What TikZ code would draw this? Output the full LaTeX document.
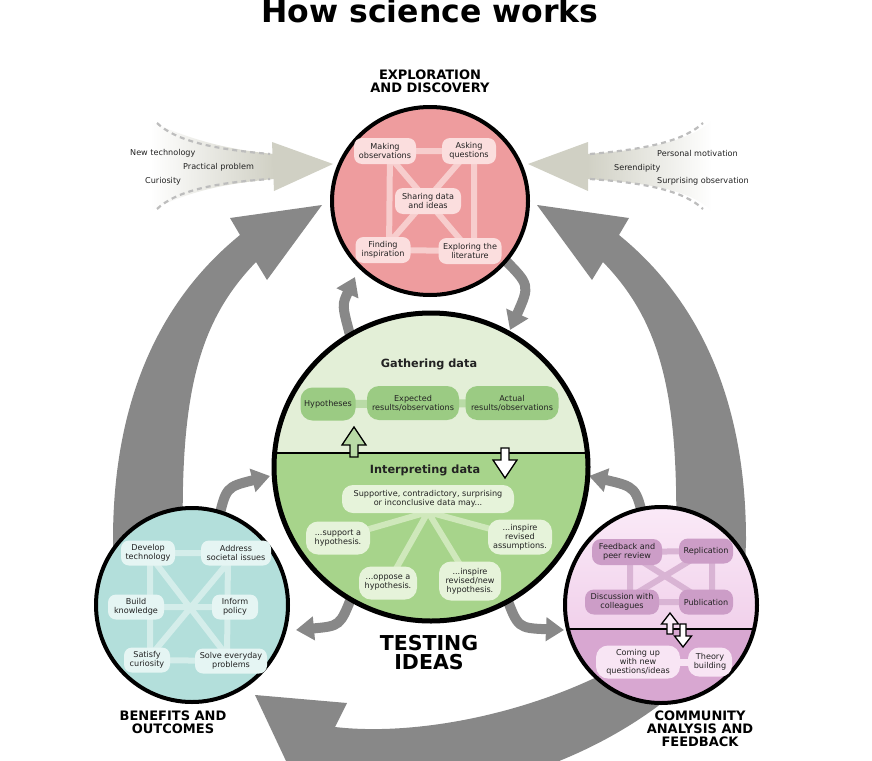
\documentclass[tikz,border=0pt]{standalone}
\usepackage{fontspec}
\setmainfont{DejaVu Sans}
\usetikzlibrary{arrows.meta,calc,shapes.geometric}
\definecolor{pkfill}{HTML}{EE9C9E}
\definecolor{pknode}{HTML}{FBDEDE}
\definecolor{pkline}{HTML}{F7CDCD}
\definecolor{gnup}{HTML}{E3EFD7}
\definecolor{gnlow}{HTML}{A7D48B}
\definecolor{gnnodeup}{HTML}{9BCB83}
\definecolor{gnlineup}{HTML}{B9DBA6}
\definecolor{gnnodelow}{HTML}{E6F3DA}
\definecolor{gnlinelow}{HTML}{CFE8BB}
\definecolor{tlfill}{HTML}{B3DFDB}
\definecolor{tlnode}{HTML}{E5F5F3}
\definecolor{tlline}{HTML}{D4EDEA}
\definecolor{putop}{HTML}{FBEBF8}
\definecolor{pubot}{HTML}{F1D1EB}
\definecolor{pulow}{HTML}{D8A7D1}
\definecolor{punodeup}{HTML}{CC9DC7}
\definecolor{pulineup}{HTML}{D9B4D4}
\definecolor{punodelow}{HTML}{F8E5F4}
\definecolor{garrow}{HTML}{888888}
\definecolor{inarrow}{HTML}{D0D0C4}
\definecolor{dashc}{HTML}{BDBDBD}
\definecolor{txt}{HTML}{222222}
\newcommand{\hollowarr}[8]{%
  \filldraw[fill=#8,draw=black,line width=1.3pt,line join=miter]
  ({#1-#7},{#2}) -- ({#1-#7},{#2+(#3)*(#4-#5)}) -- ({#1-#6},{#2+(#3)*(#4-#5)}) -- ({#1},{#2+(#3)*#4})
  -- ({#1+#6},{#2+(#3)*(#4-#5)}) -- ({#1+#7},{#2+(#3)*(#4-#5)}) -- ({#1+#7},{#2}) -- cycle;}
\begin{document}
\begin{tikzpicture}[x=1pt,y=-1pt,
  pill/.style={rectangle, rounded corners=8pt, align=center, inner sep=0pt,
    font=\fontsize{8.1}{9.1}\selectfont, text=txt},
  inl/.style={font=\fontsize{8.1}{9}\selectfont, text=txt, anchor=west, inner sep=0pt},
  captxt/.style={font=\fontsize{13}{13}\selectfont\bfseries, align=center, inner sep=0pt},
  subtxt/.style={font=\fontsize{11.3}{12}\selectfont\bfseries, text=txt, inner sep=0pt},
  sarrow/.style={draw=garrow, line width=10pt, -{Triangle[length=18pt,width=23pt]}},
  dashin/.style={draw=dashc, line width=2.2pt, dash pattern=on 5pt off 4pt},
  conn/.style={line width=6pt}]
\fill[white] (0,0) rectangle (872,760);
\useasboundingbox (0,0) rectangle (872,760);

% title
\node[font=\fontsize{31.5}{31.5}\selectfont\bfseries, anchor=base, inner sep=0pt] (title) at (430,22.5) {How science works};

% big grey arrows (tapered bodies)
\fill[garrow] (322,205) -- (230,218) -- (240,235) .. controls (160,300) and (113,400) .. (113,540)
  -- (115,600) -- (183,600) -- (183,540) .. controls (180,390) and (200,320) .. (256,262) -- (267,280) -- cycle;
\fill[garrow] (537,205) -- (629,218) -- (619,235) .. controls (699,300) and (746,400) .. (746,540)
  -- (744,600) -- (676,600) -- (676,540) .. controls (679,390) and (659,320) .. (603,262) -- (592,280) -- cycle;
\fill[garrow] (255,695) -- (347,703) -- (335,727) .. controls (430,738) and (570,705) .. (660,640)
  -- (700,670) .. controls (660,710) and (600,750) .. (520,775) -- (302,795) -- cycle;

% input arrows left
\shade[left color=white, right color=inarrow] (150,121) .. controls (190,140) and (230,150) .. (274,154)
  -- (274,179) .. controls (230,183) and (190,190) .. (150,211) -- cycle;
\fill[inarrow] (272,142) -- (333,164) -- (274,191) -- cycle;
\draw[dashin] (157,123) .. controls (175,140) and (210,149) .. (270,154);
\draw[dashin] (157,209) .. controls (175,192) and (210,183) .. (270,179);
% input arrows right
\shade[left color=inarrow, right color=white] (586,154) .. controls (650,150) and (690,140) .. (712,121)
  -- (712,211) .. controls (690,190) and (650,183) .. (586,179) -- cycle;
\fill[inarrow] (588,142) -- (528,164) -- (588,191) -- cycle;
\draw[dashin] (590,154) .. controls (650,149) and (685,140) .. (703,123);
\draw[dashin] (590,179) .. controls (650,183) and (685,192) .. (703,209);

\node[inl] (l1) at (130,153) {New technology};
\node[inl] (l2) at (183,167) {Practical problem};
\node[inl] (l3) at (145,181) {Curiosity};
\node[inl] (r1) at (657,153) {Personal motivation};
\node[inl] (r2) at (614,168) {Serendipity};
\node[inl] (r3) at (657,181) {Surprising observation};

% small grey arrows
\coordinate (a1s) at (350,335); \coordinate (a1e) at (355,277);
\coordinate (a2s) at (503,258); \coordinate (a2e) at (510,330);
\coordinate (a3s) at (218,522); \coordinate (a3e) at (270,476);
\coordinate (a4s) at (352,596); \coordinate (a4e) at (296,630);
\coordinate (a5s) at (506,596); \coordinate (a5e) at (564,630);
\coordinate (a6s) at (644,522); \coordinate (a6e) at (589,476);
\draw[sarrow] (a1s) .. controls (342,305) .. (a1e);
\draw[sarrow] (a2s) .. controls (530,285) .. (a2e);
\draw[sarrow] (a3s) .. controls (226,487) .. (a3e);
\draw[sarrow] (a4s) .. controls (340,626) .. (a4e);
\draw[sarrow] (a5s) .. controls (518,628) .. (a5e);
\draw[sarrow] (a6s) .. controls (636,487) .. (a6e);

% ===== top circle =====
\node[ellipse, draw, line width=4pt, fill=pkfill, minimum width=196pt, minimum height=188pt] (topc) at (430,201) {};
\coordinate (mkp) at (385,151); \coordinate (asp) at (469,151);
\coordinate (shp) at (428,201); \coordinate (fip) at (383,250); \coordinate (elp) at (470,251);
\draw[conn, pkline] (mkp) -- (asp) (fip) -- (elp) (mkp) -- (elp) (asp) -- (fip)
  ([xshift=5pt]mkp) -- ([xshift=6pt]fip) ([xshift=5pt]asp) -- ([xshift=4pt]elp);
\node[pill, fill=pknode, minimum width=62pt, minimum height=26pt] (mk) at (mkp) {Making\\observations};
\node[pill, fill=pknode, minimum width=54pt, minimum height=26pt] (as) at (asp) {Asking\\questions};
\node[pill, fill=pknode, minimum width=66pt, minimum height=26pt] (sh) at (shp) {Sharing data\\and ideas};
\node[pill, fill=pknode, minimum width=55pt, minimum height=26pt] (fi) at (fip) {Finding\\inspiration};
\node[pill, fill=pknode, minimum width=63pt, minimum height=26pt] (el) at (elp) {Exploring the\\literature};
\node[captxt] (capt) at (430,81.5) {EXPLORATION\\AND DISCOVERY};

% ===== centre circle =====
\begin{scope}
\clip (431,467) ellipse [x radius=157pt, y radius=154pt];
\fill[gnlow] (270,300) rectangle (600,630);
\fill[gnup] (270,300) rectangle (600,453);
\draw[line width=2pt] (270,453) -- (600,453);
\end{scope}
\node[ellipse, draw, line width=5pt, minimum width=314pt, minimum height=308pt] (gc) at (431,467) {};
\node[subtxt] (gd) at (429,364) {Gathering data};
\draw[line width=8pt, gnlineup] (328,404) -- (512,403);
\node[pill, fill=gnnodeup, rounded corners=12pt, minimum width=55pt, minimum height=33pt] (hy) at (328,404) {Hypotheses};
\node[pill, fill=gnnodeup, rounded corners=12pt, minimum width=92pt, minimum height=34pt] (exr) at (413,403) {Expected\\results/observations};
\node[pill, fill=gnnodeup, rounded corners=12pt, minimum width=93pt, minimum height=34pt] (acr) at (512,403) {Actual\\results/observations};
\hollowarr{354}{457}{-1}{30}{18}{12}{4}{gnlineup}
\hollowarr{505}{448}{1}{30}{18}{12}{4}{white}
\node[subtxt] (id) at (425,470) {Interpreting data};
\coordinate (fan) at (428,512);
\coordinate (s1p) at (338,538); \coordinate (s2p) at (388,583);
\coordinate (s3p) at (470,581); \coordinate (s4p) at (520,537);
\draw[conn, gnlinelow] (fan) -- (s1p) (fan) -- (s2p) (fan) -- (s3p) (fan) -- (s4p);
\node[pill, fill=gnnodelow, rounded corners=11pt, minimum width=172pt, minimum height=28pt] (sup) at (428,499) {Supportive, contradictory, surprising\\or inconclusive data may...};
\node[pill, fill=gnnodelow, rounded corners=12pt, minimum width=64pt, minimum height=33pt] (s1) at (s1p) {...support a\\hypothesis.};
\node[pill, fill=gnnodelow, rounded corners=12pt, minimum width=58pt, minimum height=33pt] (s2) at (s2p) {...oppose a\\hypothesis.};
\node[pill, fill=gnnodelow, rounded corners=12pt, minimum width=62pt, minimum height=39pt] (s3) at (s3p) {...inspire\\revised/new\\hypothesis.};
\node[pill, fill=gnnodelow, rounded corners=12pt, minimum width=64pt, minimum height=35pt] (s4) at (s4p) {...inspire\\revised\\assumptions.};
\node[font=\fontsize{20.5}{19.5}\selectfont\bfseries, align=center, inner sep=0pt] (ti) at (429,652.5) {TESTING\\IDEAS};

% ===== left circle =====
\node[ellipse, draw, line width=4pt, fill=tlfill, minimum width=192pt, minimum height=194pt] (lc) at (192,605) {};
\coordinate (dtp) at (148,553); \coordinate (adp) at (236,553);
\coordinate (bkp) at (136,607); \coordinate (ipp) at (235,607);
\coordinate (scp) at (147,660); \coordinate (sep) at (231,661);
\draw[conn, tlline] (dtp) -- (adp) (bkp) -- (ipp) (scp) -- (sep) (dtp) -- (sep) (adp) -- (scp)
  ([xshift=2pt]dtp) -- ([xshift=3pt]scp) ([xshift=-8pt]adp) -- ([xshift=-4pt]sep);
\node[pill, fill=tlnode, minimum width=54pt, minimum height=25pt] (dt) at (dtp) {Develop\\technology};
\node[pill, fill=tlnode, minimum width=70pt, minimum height=25pt] (ad) at (adp) {Address\\societal issues};
\node[pill, fill=tlnode, minimum width=56pt, minimum height=25pt] (bk) at (bkp) {Build\\knowledge};
\node[pill, fill=tlnode, minimum width=46pt, minimum height=25pt] (ip) at (ipp) {Inform\\policy};
\node[pill, fill=tlnode, minimum width=46pt, minimum height=25pt] (sc) at (scp) {Satisfy\\curiosity};
\node[pill, fill=tlnode, minimum width=72pt, minimum height=25pt] (se) at (sep) {Solve everyday\\problems};
\node[captxt] (capl) at (173,722.5) {BENEFITS AND\\OUTCOMES};

% ===== right circle =====
\begin{scope}
\clip (661,605) ellipse [x radius=96pt, y radius=98pt];
\shade[top color=putop, bottom color=pubot] (560,500) rectangle (760,629);
\fill[pulow] (560,629) rectangle (760,710);
\draw[line width=1.6pt] (560,629) -- (760,629);
\end{scope}
\node[ellipse, draw, line width=4pt, minimum width=192pt, minimum height=196pt] (rc) at (661,605) {};
\coordinate (fbp) at (627,552); \coordinate (rpp) at (706,551);
\coordinate (dcp) at (622,602); \coordinate (pbp) at (706,602);
\draw[conn, pulineup] (fbp) -- (rpp) (dcp) -- (pbp) (fbp) -- (pbp) (rpp) -- (dcp)
  ([xshift=3pt]fbp) -- ([xshift=8pt]dcp) ([xshift=6pt]rpp) -- ([xshift=6pt]pbp);
\node[pill, fill=punodeup, rounded corners=9pt, minimum width=70pt, minimum height=26pt] (fb) at (fbp) {Feedback and\\peer review};
\node[pill, fill=punodeup, rounded corners=9pt, minimum width=54pt, minimum height=25pt] (rp) at (rpp) {Replication};
\node[pill, fill=punodeup, rounded corners=9pt, minimum width=74pt, minimum height=25pt] (dc) at (dcp) {Discussion with\\colleagues};
\node[pill, fill=punodeup, rounded corners=9pt, minimum width=54pt, minimum height=25pt] (pb) at (pbp) {Publication};
\draw[line width=7pt, punodelow] (638,662) -- (708,662);
\node[pill, fill=punodelow, rounded corners=12pt, minimum width=84pt, minimum height=33pt] (cu) at (638,662) {Coming up\\with new\\questions/ideas};
\node[pill, fill=punodelow, rounded corners=11pt, minimum width=44pt, minimum height=29pt] (tb) at (710,662) {Theory\\building};
\hollowarr{670}{634}{-1}{21}{11}{8.5}{3}{putop}
\hollowarr{683}{624}{1}{23}{11}{8.5}{3}{white}
\node[captxt] (capr) at (700,729) {COMMUNITY\\ANALYSIS AND\\FEEDBACK};
\end{tikzpicture}
\end{document}
